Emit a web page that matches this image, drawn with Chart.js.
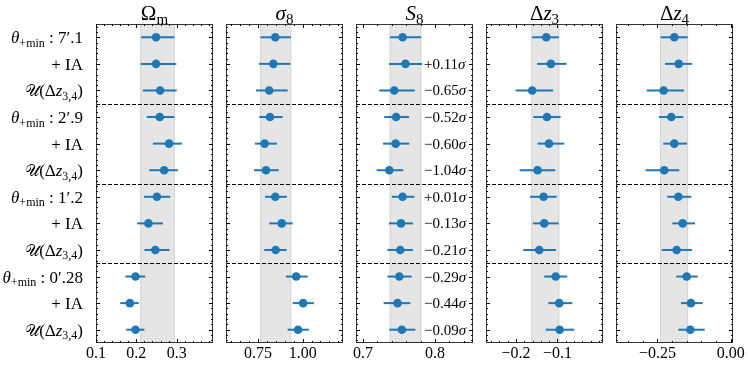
<!DOCTYPE html>
<html><head><meta charset="utf-8">
<script src="https://cdn.jsdelivr.net/npm/chart.js@4/dist/chart.umd.min.js"></script>
<style>
html,body{margin:0;padding:0;background:#fff;}
#wrap{position:relative;width:748px;height:366px;overflow:hidden;}
#wrap canvas{position:absolute;left:0;top:0;}
</style></head><body>
<div id="wrap">
<canvas id="c0" width="748" height="366"></canvas>
<canvas id="c1" width="748" height="366"></canvas>
<canvas id="c2" width="748" height="366"></canvas>
<canvas id="c3" width="748" height="366"></canvas>
<canvas id="c4" width="748" height="366"></canvas>
</div>
<script>
// ---------------- data ----------------
const ROWS = [0,1,2,3,4,5,6,7,8,9,10,11];
const THETA_MIN = ['7′.1', '2′.9', '1′.2', '0′.28'];
const IA_LABEL = '+ IA';
const SEPARATORS = [2.5, 5.5, 8.5];

// Omega_m
const OM_VAL = [0.249, 0.249, 0.259, 0.258, 0.281, 0.269, 0.251, 0.230, 0.247, 0.198, 0.184, 0.198];
const OM_LO  = [0.212, 0.211, 0.216, 0.226, 0.241, 0.232, 0.219, 0.202, 0.220, 0.173, 0.160, 0.175];
const OM_HI  = [0.294, 0.299, 0.300, 0.294, 0.313, 0.303, 0.284, 0.266, 0.282, 0.222, 0.206, 0.220];
const OM_BAND = [0.211, 0.294];
const OM_TICKS = [0.1, 0.2, 0.3];
const OM_TICK_LABELS = ['0.1', '0.2', '0.3'];

// sigma_8
const S8S_VAL = [0.847, 0.836, 0.813, 0.817, 0.787, 0.795, 0.847, 0.883, 0.849, 0.964, 1.003, 0.974];
const S8S_LO  = [0.765, 0.756, 0.739, 0.757, 0.733, 0.728, 0.789, 0.813, 0.785, 0.907, 0.944, 0.916];
const S8S_HI  = [0.935, 0.931, 0.916, 0.888, 0.856, 0.867, 0.912, 0.944, 0.910, 1.028, 1.063, 1.035];
const S8S_BAND = [0.765, 0.934];
const S8S_TICKS = [0.75, 1.00];
const S8S_TICK_LABELS = ['0.75', '1.00'];

// S_8
const BS8_VAL = [0.755, 0.759, 0.7435, 0.746, 0.7454, 0.7366, 0.755, 0.7528, 0.7518, 0.7505, 0.748, 0.754];
const BS8_LO  = [0.7375, 0.736, 0.7226, 0.7296, 0.7278, 0.719, 0.740, 0.736, 0.734, 0.734, 0.7287, 0.7366];
const BS8_HI  = [0.7806, 0.782, 0.772, 0.764, 0.7643, 0.756, 0.7713, 0.7694, 0.7694, 0.7676, 0.7657, 0.7727];
const BS8_BAND = [0.7376, 0.7805];
const BS8_TICKS = [0.7, 0.8];
const BS8_TICK_LABELS = ['0.7', '0.8'];
const BS8_SHIFT = ['', '+0.11', '−0.65', '−0.52', '−0.60', '−1.04', '+0.01', '−0.13', '−0.21', '−0.29', '−0.44', '−0.09'];

// Delta z_3
const DZ3_VAL = [-0.127, -0.1157, -0.1607, -0.1253, -0.1205, -0.1478, -0.1333, -0.1318, -0.1438, -0.1043, -0.0957, -0.0947];
const DZ3_LO  = [-0.1607, -0.149, -0.2007, -0.158, -0.1478, -0.191, -0.166, -0.159, -0.1823, -0.1318, -0.1222, -0.1284];
const DZ3_HI  = [-0.0964, -0.078, -0.1108, -0.0923, -0.0836, -0.1053, -0.102, -0.0971, -0.1036, -0.0764, -0.0643, -0.0595];
const DZ3_BAND = [-0.162, -0.0965];
const DZ3_TICKS = [-0.2, -0.1];
const DZ3_TICK_LABELS = ['−0.2', '−0.1'];

// Delta z_4
const DZ4_VAL = [-0.1927, -0.1777, -0.2289, -0.2029, -0.1927, -0.2268, -0.179, -0.164, -0.1846, -0.1503, -0.1357, -0.138];
const DZ4_LO  = [-0.239, -0.2244, -0.2869, -0.2449, -0.2302, -0.2903, -0.2166, -0.1995, -0.2357, -0.1858, -0.1698, -0.179];
const DZ4_HI  = [-0.147, -0.1322, -0.1596, -0.162, -0.1493, -0.1756, -0.1346, -0.122, -0.1322, -0.1128, -0.0957, -0.0889];
const DZ4_BAND = [-0.240, -0.147];
const DZ4_TICKS = [-0.25, 0.00];
const DZ4_TICK_LABELS = ['−0.25', '0.00'];

// ---------------- style / layout ----------------
const SERIF = '"Liberation Serif", "DejaVu Serif", serif';
const C0 = '#1f77b4';
const W = 748, H = 366;
const TOP = 24, BOTTOM = 343, PW = 117;

const PANELS = [
  {left: 96,  min: 0.1,   max: 0.39,   minor: 0.02, val: OM_VAL,  lo: OM_LO,  hi: OM_HI,  band: OM_BAND,  ticks: OM_TICKS,  labels: OM_TICK_LABELS,
   title: [{t:'Ω', s:21}, {t:'m', s:15, dy:4}], rowLabels: true},
  {left: 226, min: 0.571, max: 1.226,  minor: 0.05, val: S8S_VAL, lo: S8S_LO, hi: S8S_HI, band: S8S_BAND, ticks: S8S_TICKS, labels: S8S_TICK_LABELS,
   title: [{t:'σ', s:21, i:true}, {t:'8', s:15, dy:4}]},
  {left: 356, min: 0.6903, max: 0.8528, minor: 0.02, val: BS8_VAL, lo: BS8_LO, hi: BS8_HI, band: BS8_BAND, ticks: BS8_TICKS, labels: BS8_TICK_LABELS,
   title: [{t:'S', s:21, i:true}, {t:'8', s:15, dy:4}], shifts: BS8_SHIFT, shiftX: 0.7847},
  {left: 486, min: -0.272, max: 0.0096, minor: 0.02, val: DZ3_VAL, lo: DZ3_LO, hi: DZ3_HI, band: DZ3_BAND, ticks: DZ3_TICKS, labels: DZ3_TICK_LABELS,
   title: [{t:'Δ', s:21}, {t:'z', s:21, i:true}, {t:'3', s:15, dy:4}]},
  {left: 616, min: -0.3916, max: 0.0077, minor: 0.05, val: DZ4_VAL, lo: DZ4_LO, hi: DZ4_HI, band: DZ4_BAND, ticks: DZ4_TICKS, labels: DZ4_TICK_LABELS,
   title: [{t:'Δ', s:21}, {t:'z', s:21, i:true}, {t:'4', s:15, dy:4}]}
];

function fnt(size, italic) { return (italic ? 'italic ' : '') + size + 'px ' + SERIF; }
function drawRich(ctx, parts, x, y, align) {
  let w = 0;
  parts.forEach(p => { ctx.font = fnt(p.s, p.i); p.w = ctx.measureText(p.t).width; w += p.w; });
  let cx = align === 'right' ? x - w : (align === 'center' ? x - w / 2 : x);
  ctx.textAlign = 'left'; ctx.textBaseline = 'alphabetic'; ctx.fillStyle = '#000';
  parts.forEach(p => { ctx.font = fnt(p.s, p.i); ctx.fillText(p.t, cx, y + (p.dy || 0)); cx += p.w; });
}
function rowLabelParts(i) {
  const g = i % 3, grp = Math.floor(i / 3);
  if (g === 0) return [{t:'θ', s:17, i:true}, {t:'+min', s:12, dy:3.5}, {t:' : ' + THETA_MIN[grp], s:17}];
  if (g === 1) return [{t:IA_LABEL, s:17}];
  return [{t:'𝒰', s:16}, {t:'(Δ', s:17}, {t:'z', s:17, i:true}, {t:'3,4', s:12, dy:3.5}, {t:')', s:17}];
}

function makePlugin(P) {
  return {
    id: 'deco',
    beforeDatasetsDraw(chart) {
      const ctx = chart.ctx, x = chart.scales.x, a = chart.chartArea;
      const x0 = x.getPixelForValue(P.band[0]), x1 = x.getPixelForValue(P.band[1]);
      ctx.save();
      ctx.fillStyle = '#e5e5e5';
      ctx.fillRect(x0, a.top, x1 - x0, a.bottom - a.top);
      ctx.strokeStyle = '#d2d2d2'; ctx.lineWidth = 1;
      ctx.beginPath(); ctx.moveTo(x0, a.top); ctx.lineTo(x0, a.bottom); ctx.moveTo(x1, a.top); ctx.lineTo(x1, a.bottom); ctx.stroke();
      ctx.restore();
    },
    afterDatasetsDraw(chart) {
      const ctx = chart.ctx, y = chart.scales.y, a = chart.chartArea;
      ctx.save();
      ctx.strokeStyle = '#000'; ctx.lineWidth = 1; ctx.setLineDash([4, 2]);
      SEPARATORS.forEach(s => {
        const py = Math.round(y.getPixelForValue(s)) + 0.5;
        ctx.beginPath(); ctx.moveTo(a.left, py); ctx.lineTo(a.right, py); ctx.stroke();
      });
      ctx.restore();
    },
    afterDraw(chart) {
      const ctx = chart.ctx, xs = chart.scales.x, ys = chart.scales.y, a = chart.chartArea;
      ctx.save();
      ctx.strokeStyle = '#333'; ctx.lineWidth = 1;
      ctx.strokeRect(a.left + 0.5, a.top + 0.5, a.right - a.left - 1, a.bottom - a.top - 1);
      ctx.strokeStyle = '#000';
      ctx.beginPath();
      const k0 = Math.ceil(P.min / P.minor - 1e-9), k1 = Math.floor(P.max / P.minor + 1e-9);
      for (let k = k0; k <= k1; k++) {
        const v = k * P.minor;
        const px = Math.round(xs.getPixelForValue(v)) + 0.5;
        const major = P.ticks.some(t => Math.abs(t - v) < 1e-6);
        const L = major ? 4 : 2;
        ctx.moveTo(px, a.bottom); ctx.lineTo(px, a.bottom - L);
        ctx.moveTo(px, a.top); ctx.lineTo(px, a.top + L);
      }
      for (let k = -2; k <= 57; k++) {
        const v = k * 0.2;
        if (v < -0.5 || v > 11.5) continue;
        const major = Math.abs(v - Math.round(v)) < 1e-6;
        const L = major ? 4 : 2;
        const py = Math.round(ys.getPixelForValue(v)) + 0.5;
        ctx.moveTo(a.left, py); ctx.lineTo(a.left + L, py);
        ctx.moveTo(a.right, py); ctx.lineTo(a.right - L, py);
      }
      ctx.stroke();
      drawRich(ctx, P.title, (a.left + a.right) / 2, 20, 'center');
      if (P.shifts) {
        const sx = xs.getPixelForValue(P.shiftX);
        P.shifts.forEach((s, i) => {
          if (!s) return;
          drawRich(ctx, [{t:s, s:15}, {t:'σ', s:15, i:true}], sx, ys.getPixelForValue(ROWS[i]) + 5, 'left');
        });
      }
      if (P.rowLabels) {
        ROWS.forEach(i => drawRich(ctx, rowLabelParts(i), 83, ys.getPixelForValue(i) + 6, 'right'));
      }
      ctx.restore();
    }
  };
}

PANELS.forEach((P, idx) => {
  const datasets = [{
    data: ROWS.map(i => ({x: P.val[i], y: i})),
    pointRadius: 4.3, pointBackgroundColor: C0, pointBorderWidth: 0, showLine: false
  }];
  ROWS.forEach(i => datasets.push({
    data: [{x: P.lo[i], y: i}, {x: P.hi[i], y: i}],
    showLine: true, borderColor: C0, borderWidth: 2, pointRadius: 0, borderCapStyle: 'butt'
  }));
  new Chart(document.getElementById('c' + idx), {
    type: 'scatter',
    data: {datasets},
    options: {
      responsive: false, animation: false, devicePixelRatio: 1, events: [],
      layout: {padding: {left: P.left, right: W - P.left - PW, top: TOP, bottom: 0}},
      plugins: {legend: {display: false}, tooltip: {enabled: false}, title: {display: false}},
      scales: {
        x: {
          type: 'linear', min: P.min, max: P.max,
          grid: {display: false, drawTicks: false}, border: {display: false},
          afterBuildTicks: ax => { ax.ticks = P.ticks.map(v => ({value: v})); },
          afterFit: ax => { ax.height = H - BOTTOM; },
          ticks: {autoSkip: false, maxRotation: 0, padding: 1, color: '#000',
                  font: {family: SERIF, size: 16},
                  callback: (v, i) => P.labels[i]}
        },
        y: {type: 'linear', min: -0.5, max: 11.5, reverse: true, display: false}
      }
    },
    plugins: [makePlugin(P)]
  });
});
</script>
</body></html>
